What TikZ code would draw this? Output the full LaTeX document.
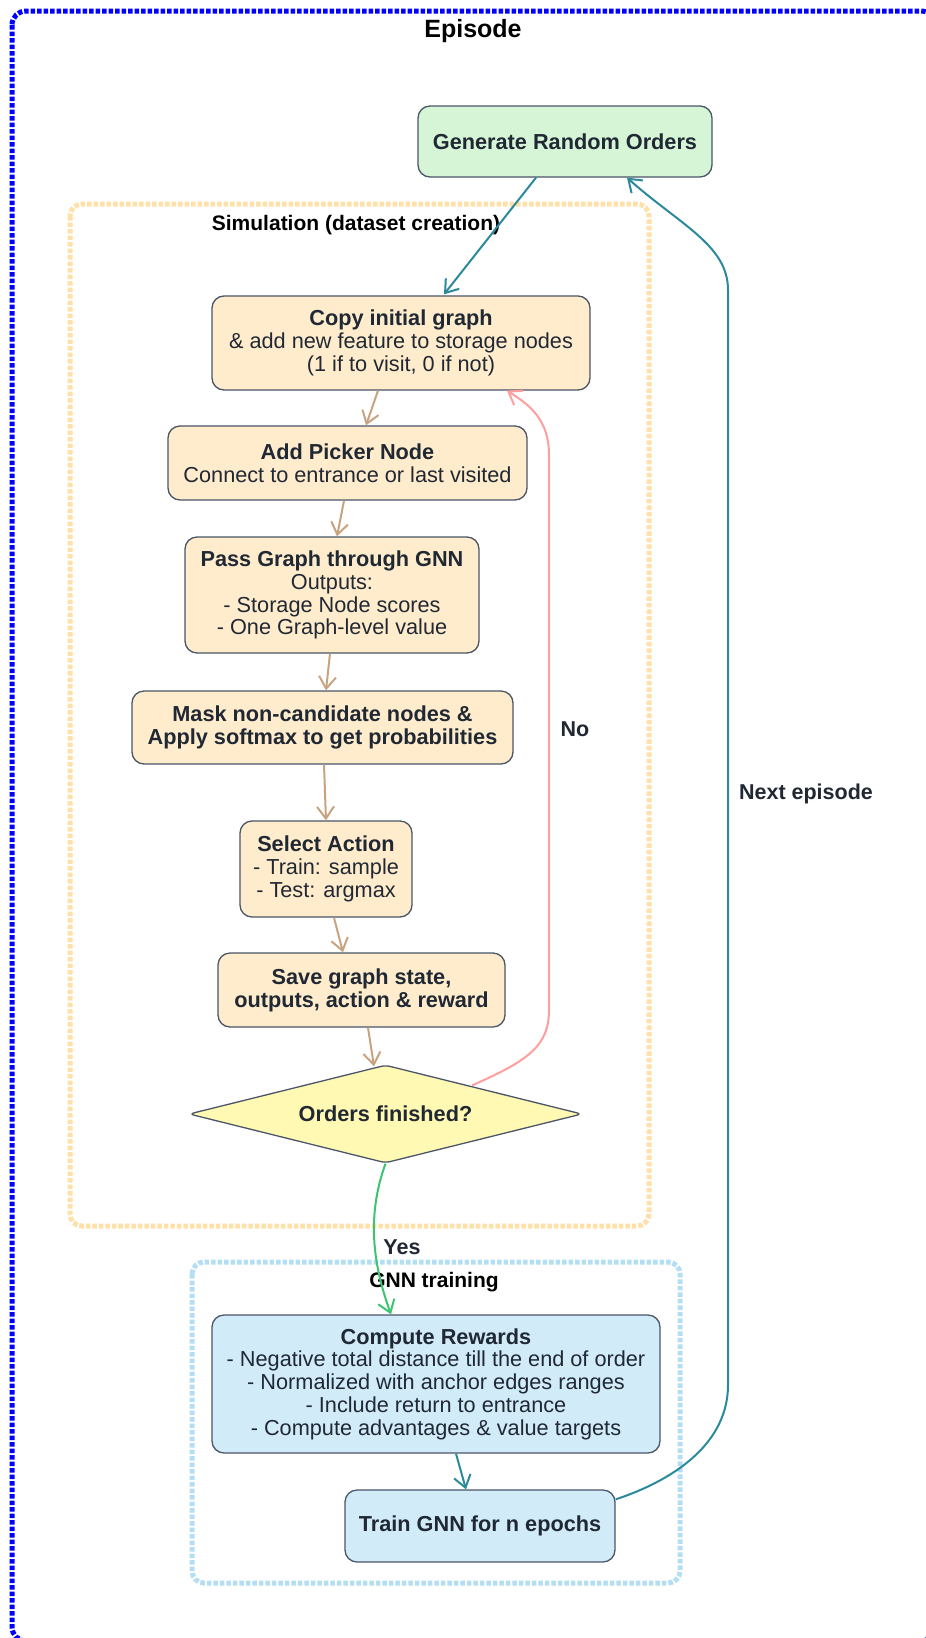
\documentclass[tikz,border=0pt]{standalone}
\usepackage{fontspec}
\setmainfont{Liberation Sans}
\usetikzlibrary{arrows.meta,shapes.geometric,calc}

\definecolor{tealc}{RGB}{42,138,155}
\definecolor{tanc}{RGB}{201,163,128}
\definecolor{pinkc}{RGB}{255,158,158}
\definecolor{greenc}{RGB}{60,196,112}
\definecolor{fillgreen}{RGB}{214,244,214}
\definecolor{fillorange}{RGB}{255,236,204}
\definecolor{fillyellow}{RGB}{255,249,180}
\definecolor{fillblue}{RGB}{209,235,248}
\definecolor{bordergray}{RGB}{74,85,104}
\definecolor{txtc}{RGB}{32,40,52}
\definecolor{simorange}{RGB}{255,224,168}
\definecolor{gnnblue}{RGB}{180,222,243}
\definecolor{epblue}{RGB}{0,0,255}

\newcommand\myNodeFont{\fontsize{21.7}{22.8}\selectfont}

\begin{document}
\begin{tikzpicture}[x=1pt,y=-1pt,
  box/.style={draw=bordergray, line width=1.3pt, rounded corners=12pt,
    align=center, text=txtc, inner sep=0pt, font=\myNodeFont},
  decision/.style={diamond, aspect=4, draw=bordergray, line width=1.3pt,
    rounded corners=5pt, fill=fillyellow, text=txtc, inner sep=0pt,
    font=\myNodeFont\bfseries},
  cluster/.style={line width=5pt, dash pattern=on 4.5pt off 2pt, rounded corners=12pt},
  clabel/.style={font=\fontsize{21}{24}\selectfont\bfseries, text=black, inner sep=0pt},
  elabel/.style={font=\fontsize{21.5}{24}\selectfont\bfseries, text=txtc, inner sep=0pt},
  barb/.style={-{Straight Barb[length=12pt,width=17pt,line width=2pt]}},
  tealarrow/.style={barb, draw=tealc, line width=2pt},
  tanarrow/.style={barb, draw=tanc, line width=2pt},
  pinkarrow/.style={barb, draw=pinkc, line width=2pt},
  greenarrow/.style={barb, draw=greenc, line width=2pt}
]
\useasboundingbox (0,0) rectangle (926,1638);
\clip (0,0) rectangle (926,1638);

% clusters
\draw[cluster, draw=epblue, rounded corners=14pt] (12,11) rectangle (935,1641);
\node[font=\fontsize{25}{28}\selectfont\bfseries, text=black, inner sep=0pt] (eptitle) at (473,31) {Episode};

\draw[cluster, draw=simorange] (70,204) rectangle (649,1226);
\node[clabel] (simtitle) at (356,225) {Simulation (dataset creation)};

\draw[cluster, draw=gnnblue] (192,1262) rectangle (680,1583);
\node[clabel] (gnntitle) at (434,1282) {GNN training};

% nodes
\node[box, fill=fillgreen, minimum width=294pt, minimum height=71pt] (gen) at (565,141.5)
  {\textbf{Generate Random Orders}};
\node[box, fill=fillorange, minimum width=378pt, minimum height=94pt] (copy) at (401,343)
  {\textbf{Copy initial graph}\\ \& add new feature to storage nodes\\ (1 if to visit, 0 if not)};
\node[box, fill=fillorange, minimum width=359pt, minimum height=74pt] (pick) at (347.5,463)
  {\textbf{Add Picker Node}\\ Connect to entrance or last visited};
\node[box, fill=fillorange, minimum width=294pt, minimum height=116pt] (pass) at (332,595)
  {\textbf{Pass Graph through GNN}\\ Outputs:\\ - Storage Node scores\\ - One Graph-level value};
\node[box, fill=fillorange, minimum width=381pt, minimum height=73pt] (mask) at (322.5,727.5)
  {\textbf{Mask non-candidate nodes \&}\\ \textbf{Apply softmax to get probabilities}};
\node[box, fill=fillorange, minimum width=172pt, minimum height=96pt] (sel) at (326,869)
  {\textbf{Select Action}\\ - Train: sample\\ - Test: argmax};
\node[box, fill=fillorange, minimum width=287pt, minimum height=74pt] (save) at (361.5,990)
  {\textbf{Save graph state,}\\ \textbf{outputs, action \& reward}};
\node[decision, minimum width=393pt, minimum height=98pt] (dia) at (385.5,1114)
  {Orders finished?};
\node[box, fill=fillblue, minimum width=448pt, minimum height=138pt] (comp) at (436,1384)
  {\textbf{Compute Rewards}\\ - Negative total distance till the end of order\\ - Normalized with anchor edges ranges\\ - Include return to entrance\\ - Compute advantages \& value targets};
\node[box, fill=fillblue, minimum width=270pt, minimum height=72pt] (train) at (480,1526)
  {\textbf{Train GNN for n epochs}};

% edges
\draw[tealarrow] ($(gen.south)+(-29,0)$) -- ($(copy.north)+(43,-1)$);
\draw[tanarrow] ($(copy.south)+(-23,0)$) -- ($(pick.north)+(18.5,0)$);
\draw[tanarrow] ($(pick.south)+(-3.5,0)$) -- ($(pass.north)+(5,0)$);
\draw[tanarrow] ($(pass.south)+(-2,0)$) -- ($(mask.north)+(3.5,0)$);
\draw[tanarrow] ($(mask.south)+(1.5,0)$) -- (sel.north);
\draw[tanarrow] ($(sel.south)+(8,0)$) -- ($(save.north)+(-18.5,0)$);
\draw[tanarrow] ($(save.south)+(6.5,0)$) -- ($(dia.north)+(-11.5,2)$);

\coordinate (noA) at (549,1010);
\coordinate (noB) at (549,455);
\draw[pinkarrow] ($(dia.north)+(86.5,21)$) .. controls (530,1060) and (549,1045) .. (noA)
  -- (noB) .. controls (549,420) and (530,405) .. ($(copy.south)+(106,0)$);
\node[elabel] (nolabel) at (575,729) {No};

\draw[greenarrow] (dia.south) .. controls (365,1220) and (375,1270) .. ($(comp.north)+(-45,0)$);
\node[elabel] (yeslabel) at (402,1247) {Yes};

\draw[tealarrow] ($(comp.south)+(20,0)$) -- ($(train.north)+(-14,0)$);

\coordinate (neA) at (728,1385);
\coordinate (neB) at (728,290);
\draw[tealarrow] ($(train.north east)+(0,10)$) .. controls (680,1478) and (728,1440) .. (neA)
  -- (neB) .. controls (728,245) and (680,225) .. ($(gen.south)+(62,0)$);
\node[elabel] (nextlabel) at (806,794) {Next episode};
\end{tikzpicture}
\end{document}
